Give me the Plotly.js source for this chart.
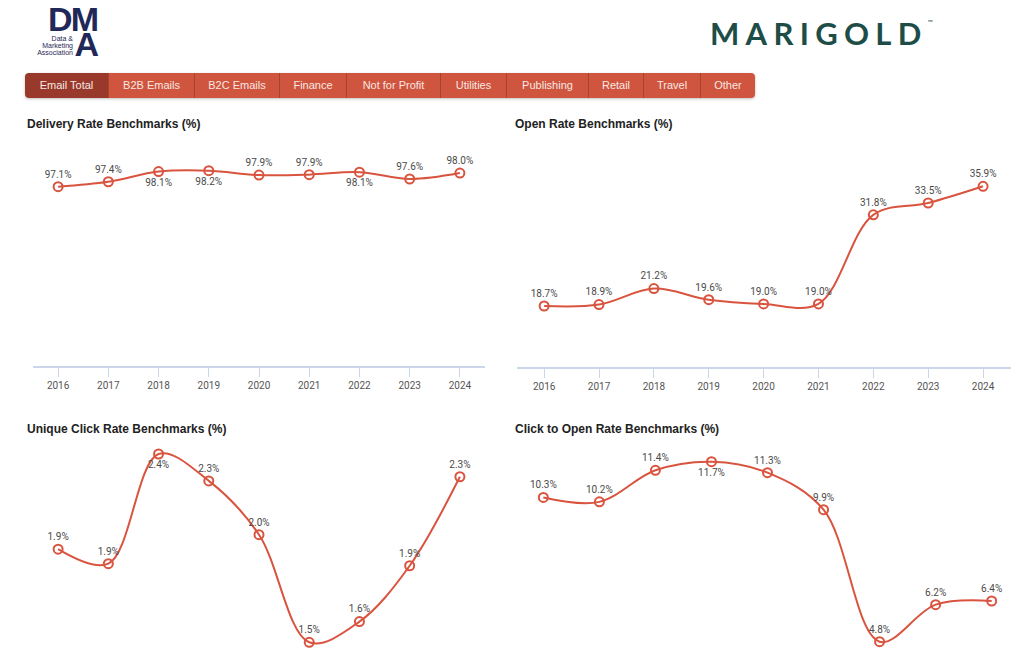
<!DOCTYPE html>
<html>
<head>
<meta charset="utf-8">
<script src="https://cdn.plot.ly/plotly-3.0.1.min.js"></script>
<style>
  html, body { margin: 0; padding: 0; background: #ffffff; }
  #wrap { position: relative; width: 1024px; height: 671px; overflow: hidden; }
  #chart { position: absolute; left: 0; top: 0; width: 1024px; height: 671px; }
  .ov { position: absolute; white-space: nowrap; }
  #tabs { position: absolute; left: 25px; top: 73px; height: 25px; display: flex;
          border-radius: 4px; overflow: hidden; box-shadow: 0 1px 3px rgba(0,0,0,0.25); }
  #tabs div { height: 25px; line-height: 25px; text-align: center; color: #f7e7e2;
          font-family: "Liberation Sans", Arial, sans-serif; font-size: 11px;
          background: #d0553f; border-right: 1px solid #a9412f; box-sizing: border-box; }
  #tabs div.active { background: #98392b; }
  #tabs div:last-child { border-right: none; }
</style>
</head>
<body>
<div id="wrap">
  <div id="chart"></div>
</div>
<script>
// ---------- data ----------
const years = ['2016', '2017', '2018', '2019', '2020', '2021', '2022', '2023', '2024'];
const deliveryRate = [97.10, 97.44, 98.14, 98.20, 97.90, 97.93, 98.10, 97.63, 98.04];
const openRate = [18.7, 18.9, 21.2, 19.6, 19.0, 19.0, 31.8, 33.5, 35.9];
const uniqueClickRate = [1.94, 1.87, 2.40, 2.27, 2.01, 1.49, 1.59, 1.86, 2.29];
const clickToOpenRate = [10.33, 10.16, 11.37, 11.70, 11.28, 9.86, 4.80, 6.22, 6.36];
const chartTitles = ['Delivery Rate Benchmarks (%)', 'Open Rate Benchmarks (%)',
                     'Unique Click Rate Benchmarks (%)', 'Click to Open Rate Benchmarks (%)'];
const tabLabels = ['Email Total', 'B2B Emails', 'B2C Emails', 'Finance', 'Not for Profit',
                   'Utilities', 'Publishing', 'Retail', 'Travel', 'Other'];

// ---------- label placement (style) ----------
const posDelivery = ['top center','top center','bottom center','bottom center','top center','top center','bottom center','top center','top center'];
const posOpen = Array(9).fill('top center');
const posClick = ['top center','top center','bottom center','top center','top center','top center','top center','top center','top center'];
const posCto = ['top center','top center','top center','bottom center','top center','top center','top center','top center','top center'];

// ---------- page decorations (HTML) ----------
const wrap = document.getElementById('wrap');
const tabWidths = [84, 86, 85, 67, 94, 66, 82, 55, 57, 54];
const tabs = document.createElement('div');
tabs.id = 'tabs';
tabLabels.forEach((t, i) => {
  const d = document.createElement('div');
  d.textContent = t;
  d.style.width = tabWidths[i] + 'px';
  if (i === 0) d.className = 'active';
  tabs.appendChild(d);
});
wrap.appendChild(tabs);

function addHtml(html, css) {
  const d = document.createElement('div');
  d.className = 'ov';
  d.innerHTML = html;
  Object.assign(d.style, css);
  wrap.appendChild(d);
  return d;
}
// DMA logo
addHtml('DM<br>A', {right: (1024 - 97) + 'px', top: '7px', fontFamily: '"Liberation Sans", Arial, sans-serif', fontWeight: '700',
  fontSize: '34px', lineHeight: '25px', color: '#1f2858', letterSpacing: '-2px', textAlign: 'right'});
addHtml('Data &amp;<br>Marketing<br>Association', {right: (1024 - 73) + 'px', top: '35px',
  fontFamily: '"Liberation Sans", Arial, sans-serif', fontSize: '7px', lineHeight: '7px',
  color: '#1f2858', textAlign: 'right'});
// Marigold logo
addHtml('MARIGOLD<span style="font-size:7px;letter-spacing:0;vertical-align:top;position:relative;top:4px;font-weight:400">™</span>',
  {left: '710px', top: '14px', fontFamily: 'Lato, sans-serif', fontWeight: '700',
   fontSize: '31px', color: '#1e4d48', letterSpacing: '6.3px'});

// ---------- chart ----------
const red = '#d9543f';
function series(vals, pos, xa, ya) {
  return {
    x: years, y: vals, xaxis: xa, yaxis: ya,
    type: 'scatter', mode: 'lines+markers+text',
    line: {color: red, width: 2, shape: 'spline', smoothing: 1},
    marker: {symbol: 'circle-open', size: 9, color: red, line: {width: 2, color: red}},
    text: vals.map(v => v.toFixed(1) + '%'),
    textposition: pos,
    textfont: {family: 'Roboto, sans-serif', size: 10, color: '#4a4a4a'},
    cliponaxis: false, hoverinfo: 'x+text', showlegend: false
  };
}
const data = [
  series(deliveryRate, posDelivery, 'x', 'y'),
  series(openRate, posOpen, 'x2', 'y2'),
  series(uniqueClickRate, posClick, 'x3', 'y3'),
  series(clickToOpenRate, posCto, 'x4', 'y4')
];

function xax(domain, visible) {
  return {
    domain: domain, type: 'category', range: [-0.5, 8.5], fixedrange: true,
    showgrid: false, zeroline: false,
    showline: visible, linecolor: '#ccd6eb', linewidth: 2,
    ticks: visible ? 'outside' : '', ticklen: 9, tickcolor: '#ccd6eb', tickwidth: 1,
    showticklabels: visible,
    tickfont: {family: 'Roboto, sans-serif', size: 10, color: '#555555'}
  };
}
function yax(domain, range) {
  return {domain: domain, range: range, visible: false, showgrid: false, zeroline: false, fixedrange: true};
}
const H = 671, W = 1024;
const py = p => 1 - p / H;
const px = p => p / W;

const annotations = [
  [25, 124, chartTitles[0]], [513, 124, chartTitles[1]],
  [25, 429, chartTitles[2]], [513, 429, chartTitles[3]]
].map(([x, y, t]) => ({
  xref: 'paper', yref: 'paper', x: px(x), y: py(y), xanchor: 'left', yanchor: 'middle',
  text: '<b>' + t + '</b>', showarrow: false,
  font: {family: '"Liberation Sans", Arial, sans-serif', size: 12, color: '#222222'}
}));

const layout = {
  width: 1024, height: 671,
  margin: {l: 0, r: 0, t: 0, b: 0},
  paper_bgcolor: '#ffffff', plot_bgcolor: 'rgba(0,0,0,0)',
  showlegend: false,
  xaxis:  xax([px(33), px(485)], true),
  yaxis:  yax([py(366), py(140)], [84.773, 100.311]),
  xaxis2: xax([px(516.7), px(1010.5)], true),
  yaxis2: yax([py(367), py(140)], [9.934, 42.553]),
  xaxis3: xax([px(33), px(485)], false),
  yaxis3: yax([0, py(445)], [1.3513, 2.4435]),
  xaxis4: xax([px(515.3), px(1019.7)], false),
  yaxis4: yax([0, py(445)], [3.677, 12.340]),
  annotations: annotations
};
layout.xaxis.anchor = 'y';
layout.xaxis2.anchor = 'y2';
layout.xaxis3.anchor = 'y3';
layout.xaxis4.anchor = 'y4';
layout.yaxis.anchor = 'x';
layout.yaxis2.anchor = 'x2';
layout.yaxis3.anchor = 'x3';
layout.yaxis4.anchor = 'x4';

Plotly.newPlot('chart', data, layout, {displayModeBar: false, staticPlot: false});
</script>
</body>
</html>
